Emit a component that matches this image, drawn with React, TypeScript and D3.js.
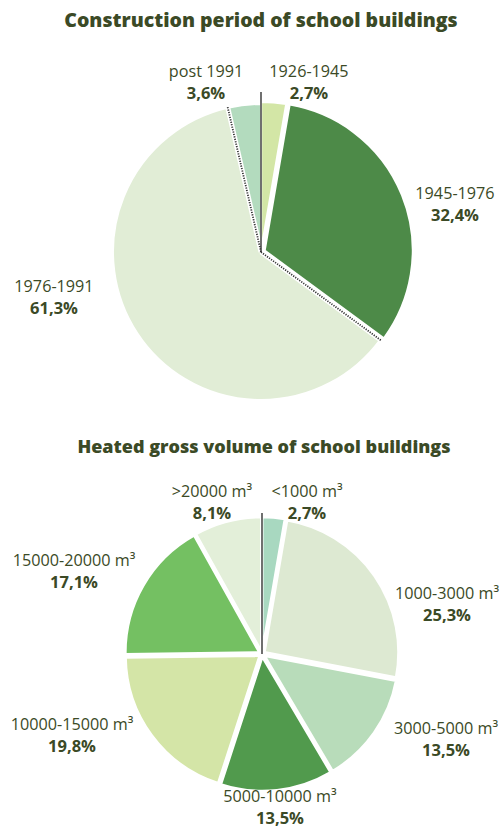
import React from "react";
import * as d3 from "d3";

const periodCategories = ["1926-1945", "1945-1976", "1976-1991", "post 1991"];
const periodValues = [2.7, 32.4, 61.3, 3.6];
const periodLabels = ["2,7%", "32,4%", "61,3%", "3,6%"];
const periodColors = ["#d3e6a6", "#4d8a48", "#e1edd6", "#b3dbbe"];

const volumeCategories = ["<1000 m³", "1000-3000 m³", "3000-5000 m³", "5000-10000 m³", "10000-15000 m³", "15000-20000 m³", ">20000 m³"];
const volumeValues = [2.7, 25.3, 13.5, 13.5, 19.8, 17.1, 8.1];
const volumeLabels = ["2,7%", "25,3%", "13,5%", "13,5%", "19,8%", "17,1%", "8,1%"];
const volumeColors = ["#a8d8c0", "#dde9d2", "#b8dcba", "#519a4d", "#d4e5a7", "#74c062", "#e3efd9"];

const TEXT = "#3b4a26";
const FONT = "'Open Sans', 'Noto Sans', sans-serif";

// label positions (center x, baseline y of first line)
const periodLabelPos: [number, number][] = [[309, 77], [455, 199], [54, 292], [206, 77]];
const volumeLabelPos: [number, number][] = [[307, 497], [447, 599], [446, 734], [280, 802], [72, 730], [74, 566], [212, 497]];

function Label({ x, y, name, pct }: { x: number; y: number; name: string; pct: string }) {
  return (
    <g fontFamily={FONT} fill={TEXT} textAnchor="middle">
      <text x={x} y={y} fontSize={16.2}>{name}</text>
      <text x={x} y={y + 22} fontSize={16.5} fontWeight="bold">{pct}</text>
    </g>
  );
}

function Pie({ cx, cy, r, values, colors, explode, strokeW, dotted, lineTop }: {
  cx: number; cy: number; r: number; values: number[]; colors: string[]; explode: number[]; strokeW: number; dotted: number[]; lineTop: number;
}) {
  const pie = d3.pie<number>().sort(null).value((d) => d)(values);
  const arc = d3.arc<d3.PieArcDatum<number>>().innerRadius(0).outerRadius(r);
  return (
    <g transform={`translate(${cx},${cy})`}>
      {pie.map((p, i) => {
        const mid = (p.startAngle + p.endAngle) / 2;
        const dx = Math.sin(mid) * explode[i];
        const dy = -Math.cos(mid) * explode[i];
        return (
          <path key={i} d={arc(p) || ""} fill={colors[i]} stroke="#fff" strokeWidth={strokeW}
            strokeLinejoin="round" transform={`translate(${dx},${dy})`} />
        );
      })}
      {dotted.map((idx) => {
        const a = pie[idx].startAngle;
        const x2 = Math.sin(a) * (r + 1);
        const y2 = -Math.cos(a) * (r + 1);
        return (
          <g key={"d" + idx}>
            <line x1={0} y1={0} x2={x2} y2={y2} stroke="#fff" strokeWidth={5} />
            <line x1={0} y1={0} x2={x2} y2={y2} stroke="#333" strokeWidth={1.8} strokeDasharray="1.2 1.3" />
          </g>
        );
      })}
      <line x1={0} y1={0} x2={0} y2={lineTop - cy} stroke="#333" strokeWidth={1.4} />
    </g>
  );
}

export default function App() {
  return (
    <div style={{ position: "absolute", left: 0, top: 0, background: "#fff" }}>
      <svg width={501} height={829} style={{ display: "block" }}>
        <rect width={501} height={829} fill="#fff" />
        <text x={261} y={27} textAnchor="middle" fontFamily={FONT} fontWeight="800" fontSize={19.5} fill={TEXT}>
          Construction period of school buildings
        </text>
        <Pie cx={261} cy={252} r={148} values={periodValues} colors={periodColors}
          explode={[2, 4, 0, 0]} strokeW={2} dotted={[2, 3]} lineTop={92} />
        {periodCategories.map((c, i) => (
          <Label key={c} x={periodLabelPos[i][0]} y={periodLabelPos[i][1]} name={c} pct={periodLabels[i]} />
        ))}

        <text x={264} y={453} textAnchor="middle" fontFamily={FONT} fontWeight="800" fontSize={18} fill={TEXT}>
          Heated gross volume of school buildings
        </text>
        <Pie cx={262} cy={654} r={134} values={volumeValues} colors={volumeColors}
          explode={[3, 3, 3, 3, 3, 3, 3]} strokeW={2.5} dotted={[]} lineTop={513} />
        {volumeCategories.map((c, i) => (
          <Label key={c} x={volumeLabelPos[i][0]} y={volumeLabelPos[i][1]} name={c} pct={volumeLabels[i]} />
        ))}
      </svg>
    </div>
  );
}
